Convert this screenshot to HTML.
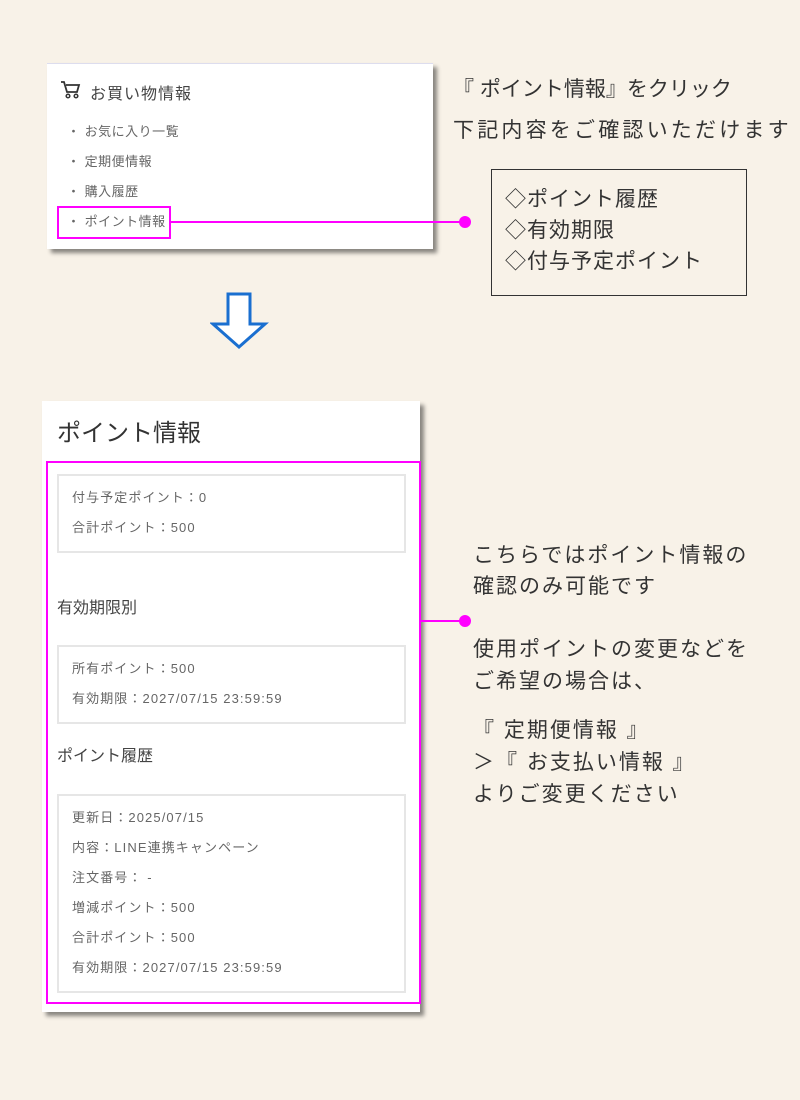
<!DOCTYPE html>
<html><head><meta charset="utf-8"><style>
body{margin:0;width:800px;height:1100px;background:#f8f2e8;position:relative;overflow:hidden;font-family:"Liberation Sans","Noto Sans CJK JP",sans-serif;color:#444}
.a{position:absolute;white-space:nowrap}
.card{position:absolute;background:#fff;box-shadow:4px 4px 4px rgba(0,0,0,.45)}
.s{font-size:13px;color:#666;line-height:13px;letter-spacing:1.1px}
.big{font-size:21px;color:#333;line-height:21px}
.box{position:absolute;border:2px solid #e6e6e6;background:#fff}
</style></head><body>
<div class="card" style="left:47px;top:63px;width:386px;height:185px;border-top:1px solid #dde"></div>
<svg class="a" style="left:60px;top:80px" width="22" height="20" viewBox="0 0 22 20"><path d="M1 2h3l3 10h10l2-7H6" fill="none" stroke="#333" stroke-width="1.8"/><circle cx="8" cy="16" r="1.8" fill="none" stroke="#333" stroke-width="1.5"/><circle cx="16" cy="16" r="1.8" fill="none" stroke="#333" stroke-width="1.5"/></svg>
<div class="a" style="left:90px;top:80px;font-size:16px;color:#444;letter-spacing:1px">お買い物情報</div>
<div class="a s" style="left:67px;top:125px;letter-spacing:0.5px">・ お気に入り一覧</div>
<div class="a s" style="left:67px;top:155px;letter-spacing:0.5px">・ 定期便情報</div>
<div class="a s" style="left:67px;top:185px;letter-spacing:0.5px">・ 購入履歴</div>
<div class="a s" style="left:67px;top:215px;letter-spacing:0.5px">・ ポイント情報</div>
<div class="a" style="left:57px;top:206px;width:110px;height:29px;border:2px solid #f0f"></div>
<div class="a" style="left:169px;top:221px;width:296px;height:2px;background:#f0f"></div>
<div class="a" style="left:459px;top:216px;width:12px;height:12px;border-radius:50%;background:#f0f"></div>
<div class="a big" style="left:453px;top:79px">『 ポイント情報』をクリック</div>
<div class="a big" style="left:453px;top:120px;letter-spacing:3.2px">下記内容をご確認いただけます</div>
<div class="a" style="left:491px;top:169px;width:254px;height:125px;border:1px solid #333"></div>
<div class="a big" style="left:505px;top:189px;letter-spacing:1px">◇ポイント履歴</div>
<div class="a big" style="left:505px;top:220px;letter-spacing:1px">◇有効期限</div>
<div class="a big" style="left:505px;top:251px;letter-spacing:1px">◇付与予定ポイント</div>
<svg class="a" style="left:210px;top:290px" width="60" height="60"><path d="M18 4h22v30h15L29 57 3 34h15z" fill="#fff" stroke="#1a6fd0" stroke-width="3" stroke-linejoin="miter"/></svg>
<div class="card" style="left:42px;top:401px;width:378px;height:611px"></div>
<div class="a" style="left:57px;top:413px;font-size:24px;color:#333">ポイント情報</div>
<div class="a" style="left:46px;top:461px;width:371px;height:539px;border:2px solid #f0f"></div>
<div class="box" style="left:57px;top:474px;width:345px;height:75px"></div>
<div class="a s" style="left:72px;top:491px">付与予定ポイント：0</div>
<div class="a s" style="left:72px;top:521px">合計ポイント：500</div>
<div class="a" style="left:57px;top:594px;font-size:16px;color:#444">有効期限別</div>
<div class="box" style="left:57px;top:645px;width:345px;height:75px"></div>
<div class="a s" style="left:72px;top:662px">所有ポイント：500</div>
<div class="a s" style="left:72px;top:692px">有効期限：2027/07/15 23:59:59</div>
<div class="a" style="left:57px;top:742px;font-size:16px;color:#444">ポイント履歴</div>
<div class="box" style="left:57px;top:794px;width:345px;height:195px"></div>
<div class="a s" style="left:72px;top:811px">更新日：2025/07/15</div>
<div class="a s" style="left:72px;top:841px">内容：LINE連携キャンペーン</div>
<div class="a s" style="left:72px;top:871px">注文番号： -</div>
<div class="a s" style="left:72px;top:901px">増減ポイント：500</div>
<div class="a s" style="left:72px;top:931px">合計ポイント：500</div>
<div class="a s" style="left:72px;top:961px">有効期限：2027/07/15 23:59:59</div>
<div class="a" style="left:419px;top:620px;width:46px;height:2px;background:#f0f"></div>
<div class="a" style="left:459px;top:615px;width:12px;height:12px;border-radius:50%;background:#f0f"></div>
<div class="a big" style="left:473px;top:545px;letter-spacing:2px">こちらではポイント情報の</div>
<div class="a big" style="left:473px;top:576px;letter-spacing:2px">確認のみ可能です</div>
<div class="a big" style="left:473px;top:639px;letter-spacing:2px">使用ポイントの変更などを</div>
<div class="a big" style="left:473px;top:671px;letter-spacing:2px">ご希望の場合は、</div>
<div class="a big" style="left:473px;top:720px;letter-spacing:2px">『 定期便情報 』</div>
<div class="a big" style="left:473px;top:752px;letter-spacing:2px">＞『 お支払い情報 』</div>
<div class="a big" style="left:473px;top:784px;letter-spacing:2px">よりご変更ください</div>
</body></html>
